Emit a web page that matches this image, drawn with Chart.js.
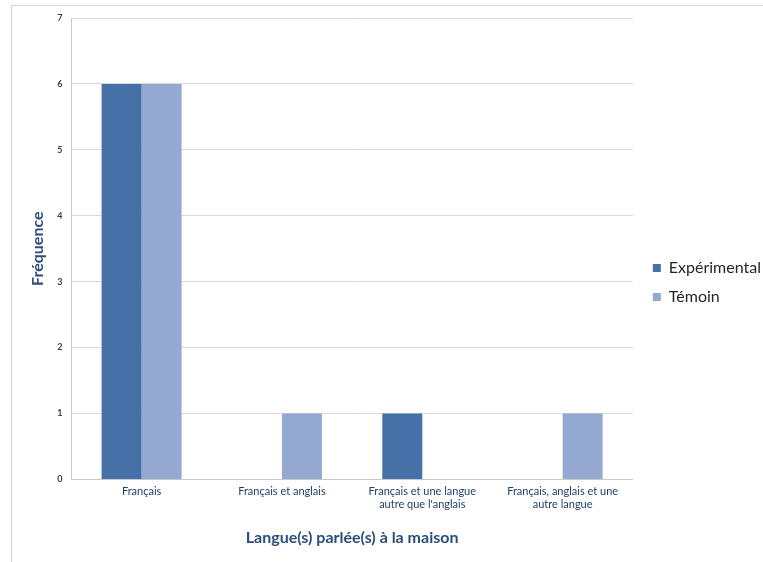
<!DOCTYPE html>
<html>
<head>
<meta charset="utf-8">
<script src="https://cdn.jsdelivr.net/npm/chart.js@4"></script>
<style>
  html, body { margin: 0; padding: 0; background: #fff; overflow: hidden; }
  #wrap { position: relative; width: 763px; height: 562px; overflow: hidden; }
  #frame { position: absolute; left: 11px; top: 5px; width: 800px; height: 600px;
           border: 1px solid #d4d4d4; box-sizing: border-box; }
  #c { position: absolute; left: 0; top: 0; }
</style>
</head>
<body>
<div id="wrap">
  <div id="frame"></div>
  <canvas id="c" width="790" height="562"></canvas>
</div>
<script>
// Langue(s) parlée(s) à la maison, fréquence par groupe
const categories = [
  "Français",
  "Français et anglais",
  ["Français et une langue", "autre que l'anglais"],
  ["Français, anglais et une", "autre langue"]
];
const experimental = [6, 0, 1, 0];
const temoin = [6, 1, 0, 1];
const yTicks = [0, 1, 2, 3, 4, 5, 6, 7];

const FONT = "Lato, 'Open Sans', sans-serif";

// push the legend a little away from the plot area
const legendGap = {
  id: 'legendGap',
  afterLayout(chart) {
    const lg = chart.legend;
    if (lg) { lg.left += 7; lg.right += 7; }
  }
};

new Chart(document.getElementById('c'), {
  type: 'bar',
  data: {
    labels: categories,
    datasets: [
      { label: 'Expérimental', data: experimental, backgroundColor: '#4571a8',
        categoryPercentage: 0.57, barPercentage: 1.0 },
      { label: 'Témoin', data: temoin, backgroundColor: '#93a9d1',
        categoryPercentage: 0.57, barPercentage: 1.0 }
    ]
  },
  plugins: [legendGap],
  options: {
    responsive: false,
    animation: false,
    layout: { padding: { left: 28, top: 18, right: 26, bottom: 15 } },
    plugins: {
      tooltip: { enabled: false },
      legend: {
        position: 'right',
        labels: {
          font: { family: FONT, size: 16 },
          color: '#262626',
          boxWidth: 8, boxHeight: 8,
          padding: 13
        }
      }
    },
    scales: {
      x: {
        grid: { display: false, drawTicks: false },
        border: { color: '#c8c8c8', width: 1 },
        ticks: {
          font: { family: FONT, size: 11 },
          color: '#1f3f6b',
          padding: 5,
          maxRotation: 0,
          autoSkip: false
        },
        title: {
          display: true,
          text: 'Langue(s) parlée(s) à la maison',
          font: { family: FONT, size: 16, weight: 'bold' },
          color: '#2b4e7c',
          padding: { top: 12, bottom: 0 }
        }
      },
      y: {
        min: 0, max: 7,
        afterBuildTicks: (axis) => { axis.ticks = yTicks.map(v => ({ value: v })); },
        grid: { color: '#d9d9d9', drawTicks: false },
        border: { color: '#c8c8c8', width: 1 },
        ticks: {
          font: { family: FONT, size: 9, weight: 'bold' },
          color: '#404040',
          padding: 9
        },
        title: {
          display: true,
          text: 'Fréquence',
          font: { family: FONT, size: 16, weight: 'bold' },
          color: '#2b4e7c',
          padding: { top: 0, bottom: 1 }
        }
      }
    }
  }
});
</script>
</body>
</html>
